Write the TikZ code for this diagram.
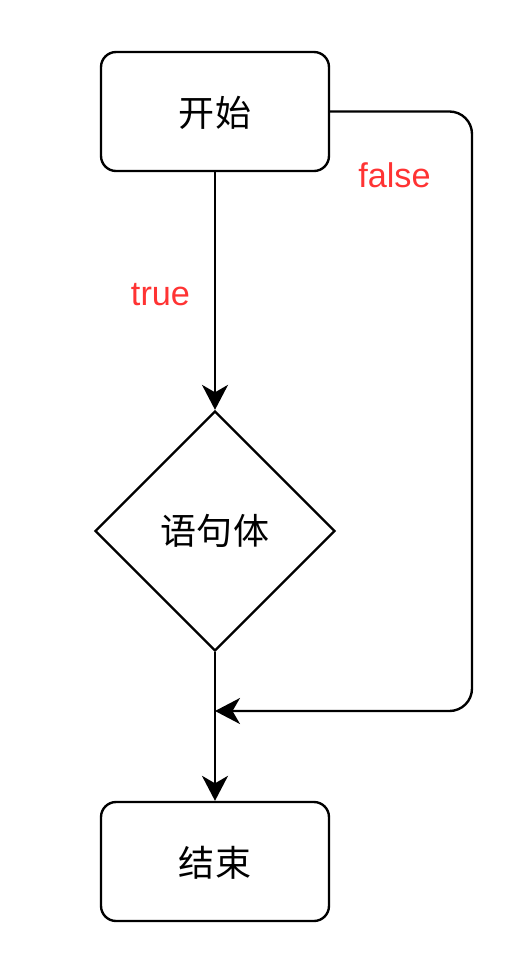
\documentclass[tikz,border=0pt]{standalone}
\usepackage{fontspec}
\setmainfont{Liberation Sans}
\newfontfamily\cjkfont{Noto Sans CJK SC}
\usetikzlibrary{shapes.geometric,arrows.meta}
\definecolor{labelred}{HTML}{FF3333}
\begin{document}
\begin{tikzpicture}[x=0.02cm, y=-0.02cm, line width=1.35pt,
	box/.style={draw, rounded corners=0.3cm, minimum width=4.56cm, minimum height=2.38cm, text depth=0pt, font=\cjkfont\fontsize{20.5}{24}\selectfont},
	cond/.style={draw, diamond, shape aspect=1, minimum width=4.8cm, minimum height=4.8cm, inner sep=0pt, font=\cjkfont\fontsize{20.5}{24}\selectfont},
	lbl/.style={text=labelred, font=\fontsize{19.5}{23}\selectfont},
	arr/.style={-{Stealth[length=0.5cm, width=0.52cm, inset=0.15cm]}}]
	\useasboundingbox (0,0) rectangle (512,968);
	\node[box] (start1) at (215,111.5) {开始};
	\node[cond] (body1) at (215,531) {语句体};
	\node[box] (end1) at (215,861.5) {结束};
	\coordinate (merge1) at (215,711);
	\node[lbl] (true1) at (160.5,295) {true};
	\node[lbl] (false1) at (394.5,175) {false};
	\draw[arr] (start1.south) -- (body1.north);
	\draw (body1.south) -- (merge1);
	\draw[arr] (merge1) -- (end1.north);
	\draw[arr, rounded corners=0.45cm] (start1.east) -- (472,111.5) -- (472,711) -- (merge1);
\end{tikzpicture}
\end{document}
